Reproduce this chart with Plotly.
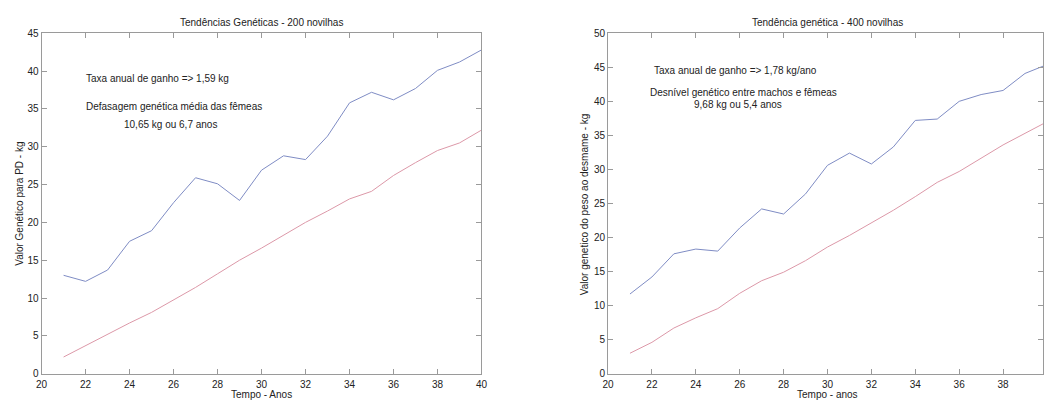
import plotly.graph_objects as go

years = list(range(21, 41))

# Left chart: 200 novilhas
left_machos = [13.0, 12.2, 13.7, 17.5, 18.9, 22.6, 25.9, 25.1, 22.9, 26.9,
               28.8, 28.3, 31.4, 35.8, 37.2, 36.2, 37.7, 40.1, 41.2, 42.8]
left_femeas = [2.2, 3.7, 5.3, 6.7, 8.1, 9.7, 11.4, 13.2, 15.0, 16.6,
               18.3, 20.0, 21.5, 23.1, 24.1, 26.2, 27.9, 29.5, 30.5, 32.2]

# Right chart: 400 novilhas
right_machos = [11.7, 14.2, 17.6, 18.3, 18.0, 21.4, 24.2, 23.45, 26.4, 30.6,
                32.4, 30.8, 33.3, 37.2, 37.4, 40.0, 41.0, 41.6, 44.1, 45.4]
right_femeas = [3.0, 4.6, 6.7, 8.2, 9.55, 11.8, 13.65, 14.9, 16.6, 18.6,
                20.3, 22.1, 24.0, 26.0, 28.1, 29.7, 31.7, 33.6, 35.3, 37.0]

x_ticks = list(range(20, 41, 2))
left_y_ticks = list(range(0, 46, 5))
right_y_ticks = list(range(0, 51, 5))

BLUE = "#7f8cc4"
RED = "#dc98a8"
AXIS = "#9a9a9a"
FONT = "Liberation Sans"
W, H = 1049, 404

fig = go.Figure()
fig.add_trace(go.Scatter(x=years, y=left_machos, mode="lines",
                         line=dict(color=BLUE, width=1), xaxis="x", yaxis="y"))
fig.add_trace(go.Scatter(x=years, y=left_femeas, mode="lines",
                         line=dict(color=RED, width=1), xaxis="x", yaxis="y"))
fig.add_trace(go.Scatter(x=years, y=right_machos, mode="lines",
                         line=dict(color=BLUE, width=1), xaxis="x2", yaxis="y2"))
fig.add_trace(go.Scatter(x=years, y=right_femeas, mode="lines",
                         line=dict(color=RED, width=1), xaxis="x2", yaxis="y2"))

ydom = [(H - 378) / H, (H - 29) / H]
axis_common = dict(showgrid=False, zeroline=False, showline=True, linecolor=AXIS,
                   linewidth=1, mirror="ticks", ticks="inside", ticklen=5,
                   tickcolor=AXIS, tickfont=dict(family=FONT, size=10, color="#222"))

fig.update_layout(
    width=W, height=H, margin=dict(l=0, r=0, t=0, b=0),
    paper_bgcolor="white", plot_bgcolor="white", showlegend=False,
    font=dict(family=FONT, size=10, color="#222"),
    xaxis=dict(domain=[36 / W, 481 / W], range=[20, 40], tickvals=x_ticks,
               anchor="y", ticklabelstandoff=1, **axis_common),
    yaxis=dict(domain=ydom, range=[0, 45], tickvals=left_y_ticks,
               anchor="x", **axis_common),
    xaxis2=dict(domain=[609 / W, 1.0], range=[20, 20 + (1049 - 609) / 22.2],
                tickvals=x_ticks, anchor="y2", ticklabelstandoff=1, **axis_common),
    yaxis2=dict(domain=ydom, range=[0, 50], tickvals=right_y_ticks,
                anchor="x2", **axis_common),
)

ann = []
def txt(text, x, y, xref, yref, xanchor="center", yanchor="middle", size=10, angle=0):
    ann.append(dict(text=text, x=x, y=y, xref=xref, yref=yref, xanchor=xanchor,
                    yanchor=yanchor, showarrow=False, textangle=angle,
                    font=dict(family=FONT, size=size, color="#222")))

# titles
txt("Tendências Genéticas - 200 novilhas", 258 / W, (H - 18) / H, "paper", "paper")
txt("Tendência genética - 400 novilhas", 831 / W, (H - 18) / H, "paper", "paper")
# axis titles
txt("Tempo - Anos", 258 / W, (H - 392) / H, "paper", "paper", yanchor="top")
txt("Tempo - anos", 831 / W, (H - 392) / H, "paper", "paper", yanchor="top")
txt("Valor Genético para PD - kg", 14 / W, (H - 204) / H, "paper", "paper", angle=-90)
txt("Valor genetico do peso ao desmame - kg", 586 / W, (H - 204) / H, "paper", "paper", angle=-90)
# in-plot texts
txt("Taxa anual de ganho => 1,59 kg", 21.95, 39.07, "x", "y", xanchor="left")
txt("Defasagem genética média das fêmeas", 21.95, 35.33, "x", "y", xanchor="left")
txt("10,65 kg ou 6,7 anos", 25.85, 32.88, "x", "y")
txt("Taxa anual de ganho => 1,78 kg/ano", 22.0, 44.56, "x2", "y2", xanchor="left")
txt("Desnível genético entre machos e fêmeas", 21.82, 41.26, "x2", "y2", xanchor="left")
txt("9,68 kg ou 5,4 anos", 25.9, 39.54, "x2", "y2")

fig.update_layout(annotations=ann)
fig.write_html("out.html", config={"displayModeBar": False},
               post_script="document.body.style.margin='0';document.body.style.overflow='hidden';")
